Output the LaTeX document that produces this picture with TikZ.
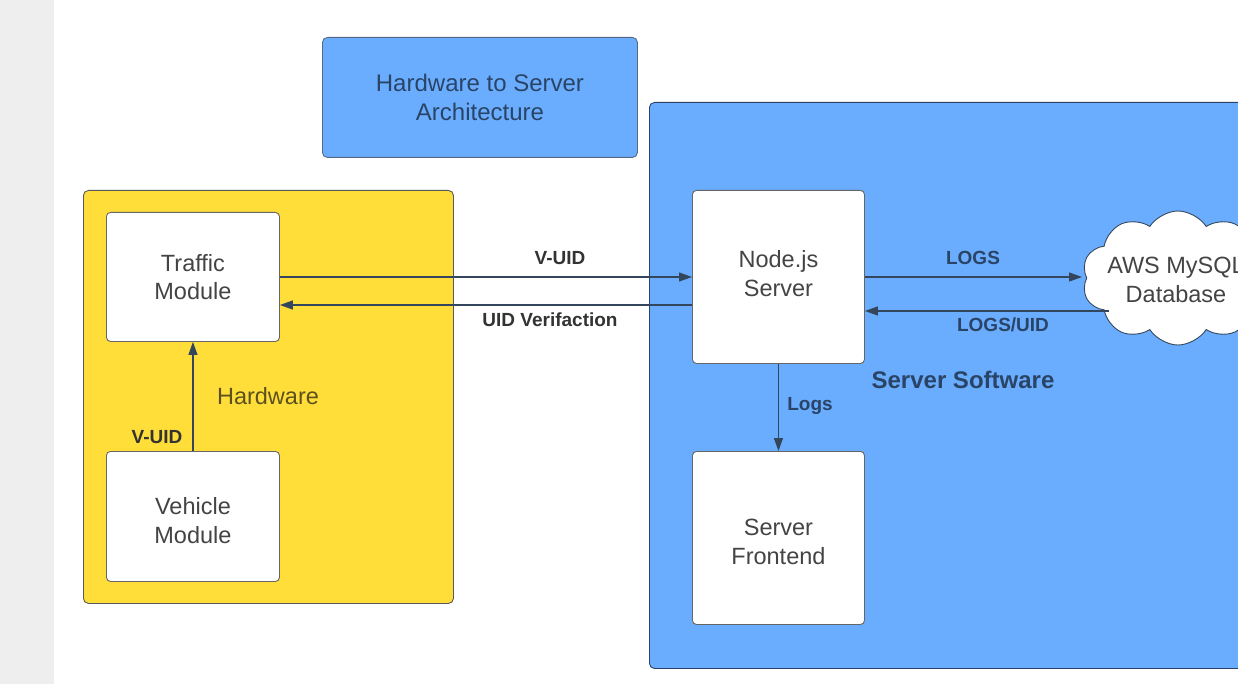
\documentclass[tikz,border=0pt]{standalone}
\usepackage{fontspec}
\setmainfont{Liberation Sans}
\usetikzlibrary{shapes.symbols,arrows.meta}
\definecolor{bgray}{HTML}{EEEEEE}
\definecolor{lblue}{HTML}{6AADFF}
\definecolor{yel}{HTML}{FFDE3A}
\definecolor{navy}{HTML}{2A4466}
\definecolor{dline}{HTML}{34465C}
\definecolor{txtg}{HTML}{444444}
\definecolor{olive}{HTML}{5C5020}
\tikzset{
  wbox/.style={draw=black!60, line width=0.9pt, fill=white, rounded corners=4pt, anchor=north west, inner sep=0pt},
  bodytxt/.style={font=\fontsize{23.5}{28.5}\selectfont, text=txtg, align=center},
  lbl/.style={font=\fontsize{19}{21}\selectfont\bfseries, inner sep=0pt},
  arr/.style={draw=dline, line width=1.2pt, -{Triangle[length=13pt,width=9pt]}},
}
\begin{document}
\begin{tikzpicture}[x=1pt,y=-1pt]
\useasboundingbox (0,0) rectangle (1238,684);
\clip (0,0) rectangle (1238,684);
\fill[bgray] (0,0) rectangle (54,684);
% title
\node[draw=navy!80, line width=0.9pt, fill=lblue, rounded corners=5pt, anchor=north west, minimum width=315, minimum height=120, inner sep=0pt, font=\fontsize{24}{28.5}\selectfont, text=navy, align=center] (title) at (322,37) {Hardware to Server\\Architecture};
% containers
\node[draw=black!65, line width=0.9pt, fill=yel, rounded corners=5pt, anchor=north west, minimum width=370, minimum height=413, inner sep=0pt] (hw) at (83,190) {};
\node[draw=navy, line width=0.9pt, fill=lblue, rounded corners=5pt, anchor=north west, minimum width=640, minimum height=566, inner sep=0pt] (sw) at (649,102) {};
% boxes
\node[wbox, minimum width=173, minimum height=129] (traffic) at (106,212) {};
\node[bodytxt] at (traffic.center) {Traffic\\Module};
\node[wbox, minimum width=173, minimum height=130] (vehicle) at (106,451) {};
\node[bodytxt] at ([yshift=-4pt]vehicle.center) {Vehicle\\Module};
\node[wbox, minimum width=172, minimum height=173] (nodejs) at (692,190) {};
\node[bodytxt] at ([yshift=-3pt]nodejs.north) [anchor=north, yshift=-54pt] {Node.js\\Server};
\node[wbox, minimum width=172, minimum height=173] (front) at (692,451) {};
\node[bodytxt] at ([yshift=-4pt]front.center) {Server\\Frontend};
\node[cloud, cloud puffs=10, cloud puff arc=115, aspect=1.45, draw=dline, line width=0.9pt, fill=white, minimum width=192, minimum height=134, inner sep=0pt] (db) at (1178,278) {};
\node[bodytxt] at ([xshift=-2pt,yshift=-2pt]db.center) {AWS MySQL\\Database};
% arrows
\draw[arr] (traffic.east |- 0,277) -- (nodejs.west |- 0,277);
\draw[arr] (nodejs.west |- 0,305) -- (traffic.east |- 0,305);
\draw[arr] (nodejs.east |- 0,277) -- (1082,277);
\coordinate (dbl) at (1109,311);
\draw[arr] (dbl) -- (nodejs.east |- dbl);
\draw[arr] (vehicle.north) -- (traffic.south);
\draw[arr] (nodejs.south) -- (front.north);
% labels
\node[lbl, text=black!80] (l1) at (560,258) {V-UID};
\node[lbl, text=black!80] (l2) at (550,320) {UID Verifaction};
\node[lbl, text=navy] (l3) at (973,258) {LOGS};
\node[lbl, text=navy] (l4) at (1003,325) {LOGS/UID};
\node[lbl, text=navy] (l5) at (810,406) {Logs};
\node[lbl, text=black!80] (l6) at (157,437) {V-UID};
\node[font=\fontsize{23.5}{28}\selectfont, text=olive, inner sep=0pt] (l7) at (268,396) {Hardware};
\node[font=\fontsize{24}{28}\selectfont\bfseries, text=navy, inner sep=0pt] (l8) at (963,380) {Server Software};
\end{tikzpicture}
\end{document}
